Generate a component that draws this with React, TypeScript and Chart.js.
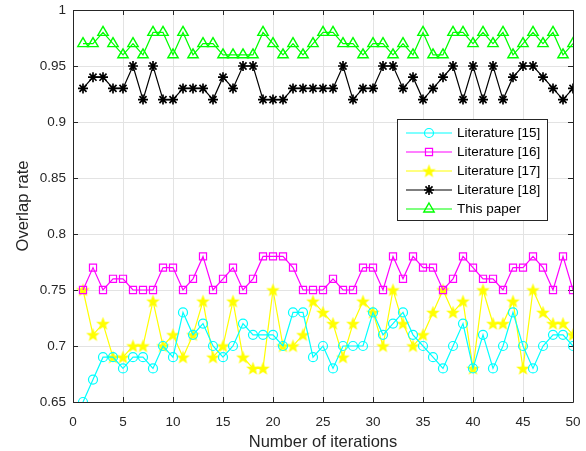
import React, { useEffect, useRef } from "react";
import { Chart, registerables } from "chart.js";

Chart.register(...registerables);

const iterations = [
  1, 2, 3, 4, 5, 6, 7, 8, 9, 10, 11, 12, 13, 14, 15, 16, 17, 18, 19, 20, 21, 22, 23, 24, 25,
  26, 27, 28, 29, 30, 31, 32, 33, 34, 35, 36, 37, 38, 39, 40, 41, 42, 43, 44, 45, 46, 47, 48, 49, 50,
];

const lit15 = [
  0.65, 0.67, 0.69, 0.69, 0.68, 0.69, 0.69, 0.68, 0.7, 0.69,
  0.73, 0.71, 0.72, 0.7, 0.69, 0.7, 0.72, 0.71, 0.71, 0.71,
  0.7, 0.73, 0.73, 0.69, 0.7, 0.68, 0.7, 0.7, 0.7, 0.73,
  0.71, 0.72, 0.73, 0.71, 0.7, 0.69, 0.68, 0.7, 0.72, 0.68,
  0.71, 0.68, 0.7, 0.73, 0.7, 0.68, 0.7, 0.71, 0.71, 0.7,
];

const lit16 = [
  0.75, 0.77, 0.75, 0.76, 0.76, 0.75, 0.75, 0.75, 0.77, 0.77,
  0.75, 0.76, 0.78, 0.75, 0.76, 0.77, 0.75, 0.76, 0.78, 0.78,
  0.78, 0.77, 0.75, 0.75, 0.75, 0.76, 0.75, 0.75, 0.77, 0.77,
  0.75, 0.78, 0.76, 0.78, 0.77, 0.77, 0.75, 0.76, 0.78, 0.77,
  0.76, 0.76, 0.75, 0.77, 0.77, 0.78, 0.77, 0.75, 0.78, 0.75,
];

const lit17 = [
  0.75, 0.71, 0.72, 0.69, 0.69, 0.7, 0.7, 0.74, 0.7, 0.71,
  0.69, 0.71, 0.74, 0.69, 0.7, 0.74, 0.69, 0.68, 0.68, 0.75,
  0.7, 0.7, 0.71, 0.74, 0.73, 0.72, 0.69, 0.72, 0.74, 0.73,
  0.7, 0.75, 0.72, 0.7, 0.71, 0.73, 0.75, 0.73, 0.74, 0.68,
  0.75, 0.72, 0.72, 0.74, 0.68, 0.75, 0.73, 0.72, 0.72, 0.71,
];

const lit18 = [
  0.93, 0.94, 0.94, 0.93, 0.93, 0.95, 0.92, 0.95, 0.92, 0.92,
  0.93, 0.93, 0.93, 0.92, 0.94, 0.93, 0.95, 0.95, 0.92, 0.92,
  0.92, 0.93, 0.93, 0.93, 0.93, 0.93, 0.95, 0.92, 0.93, 0.93,
  0.95, 0.95, 0.93, 0.94, 0.92, 0.93, 0.94, 0.95, 0.92, 0.95,
  0.92, 0.95, 0.92, 0.94, 0.95, 0.95, 0.94, 0.93, 0.92, 0.93,
];

const thisPaper = [
  0.97, 0.97, 0.98, 0.97, 0.96, 0.97, 0.96, 0.98, 0.98, 0.96,
  0.98, 0.96, 0.97, 0.97, 0.96, 0.96, 0.96, 0.96, 0.98, 0.97,
  0.96, 0.97, 0.96, 0.97, 0.98, 0.98, 0.97, 0.97, 0.96, 0.97,
  0.97, 0.96, 0.97, 0.96, 0.98, 0.96, 0.96, 0.98, 0.98, 0.97,
  0.98, 0.97, 0.98, 0.96, 0.97, 0.98, 0.97, 0.98, 0.96, 0.97,
];

const seriesNames = ["Literature [15]", "Literature [16]", "Literature [17]", "Literature [18]", "This paper"];
const seriesColors = ["#00FFFF", "#FF00FF", "#FFFF00", "#000000", "#00FF00"];

const xTickValues = [0, 5, 10, 15, 20, 25, 30, 35, 40, 45, 50];
const yTickValues = [0.65, 0.7, 0.75, 0.8, 0.85, 0.9, 0.95, 1];
const xTitle = "Number of iterations";
const yTitle = "Overlap rate";

const FONT = "'Liberation Sans', Arial, Helvetica, sans-serif";
const AXIS_COLOR = "#262626";
const GRID_COLOR = "#e3e3e3";

function makePentagram(color: string, outer: number): HTMLCanvasElement {
  const size = Math.ceil(outer * 2 + 4);
  const c = document.createElement("canvas");
  c.width = size;
  c.height = size;
  const ctx = c.getContext("2d")!;
  const cx = size / 2;
  const cy = size / 2 + 0.5;
  const inner = outer * 0.42;
  ctx.beginPath();
  for (let k = 0; k < 10; k++) {
    const r = k % 2 === 0 ? outer : inner;
    const a = -Math.PI / 2 + (k * Math.PI) / 5;
    const px = cx + r * Math.cos(a);
    const py = cy + r * Math.sin(a);
    if (k === 0) ctx.moveTo(px, py);
    else ctx.lineTo(px, py);
  }
  ctx.closePath();
  ctx.fillStyle = color;
  ctx.fill();
  ctx.strokeStyle = color;
  ctx.lineWidth = 1.2;
  ctx.lineJoin = "miter";
  ctx.stroke();
  return c;
}

function drawMarker(ctx: CanvasRenderingContext2D, style: any, x: number, y: number, r: number, color: string, lw: number) {
  ctx.save();
  ctx.strokeStyle = color;
  ctx.lineWidth = lw;
  ctx.beginPath();
  if (style instanceof HTMLCanvasElement) {
    ctx.drawImage(style, x - style.width / 2, y - style.height / 2);
  } else if (style === "circle") {
    ctx.arc(x, y, r, 0, Math.PI * 2);
    ctx.stroke();
  } else if (style === "rect") {
    const s = Math.SQRT1_2 * r;
    ctx.rect(x - s, y - s, 2 * s, 2 * s);
    ctx.stroke();
  } else if (style === "triangle") {
    for (let k = 0; k < 3; k++) {
      const a = -Math.PI / 2 + (k * 2 * Math.PI) / 3;
      const px = x + r * Math.cos(a);
      const py = y + r * Math.sin(a);
      if (k === 0) ctx.moveTo(px, py);
      else ctx.lineTo(px, py);
    }
    ctx.closePath();
    ctx.stroke();
  } else if (style === "star") {
    ctx.moveTo(x, y - r);
    ctx.lineTo(x, y + r);
    ctx.moveTo(x - r, y);
    ctx.lineTo(x + r, y);
    const d = Math.cos(Math.PI / 4) * r;
    ctx.moveTo(x - d, y - d);
    ctx.lineTo(x + d, y + d);
    ctx.moveTo(x + d, y - d);
    ctx.lineTo(x - d, y + d);
    ctx.stroke();
  }
  ctx.restore();
}

const framePlugin = {
  id: "frame",
  beforeDatasetsDraw(chart: any) {
    const { ctx, chartArea } = chart;
    const { left, right, top, bottom } = chartArea;
    const xs = chart.scales.x;
    const ys = chart.scales.y;
    const tl = 5;
    ctx.save();
    ctx.strokeStyle = AXIS_COLOR;
    ctx.lineWidth = 1;
    ctx.beginPath();
    ctx.rect(Math.round(left) + 0.5, Math.round(top) + 0.5, Math.round(right - left), Math.round(bottom - top));
    ctx.stroke();
    ctx.beginPath();
    for (const v of xTickValues) {
      const px = Math.round(xs.getPixelForValue(v)) + 0.5;
      ctx.moveTo(px, bottom);
      ctx.lineTo(px, bottom - tl);
      ctx.moveTo(px, top);
      ctx.lineTo(px, top + tl);
    }
    for (const v of yTickValues) {
      const py = Math.round(ys.getPixelForValue(v)) + 0.5;
      ctx.moveTo(left, py);
      ctx.lineTo(left + tl, py);
      ctx.moveTo(right, py);
      ctx.lineTo(right - tl, py);
    }
    ctx.stroke();
    ctx.restore();
  },
};

const titlePlugin = {
  id: "titles",
  afterDraw(chart: any) {
    const { ctx, chartArea } = chart;
    ctx.save();
    ctx.fillStyle = AXIS_COLOR;
    ctx.font = `16.5px ${FONT}`;
    ctx.textAlign = "center";
    ctx.textBaseline = "alphabetic";
    ctx.fillText(xTitle, (chartArea.left + chartArea.right) / 2, 446.5);
    ctx.translate(28, (chartArea.top + chartArea.bottom) / 2);
    ctx.rotate(-Math.PI / 2);
    ctx.fillText(yTitle, 0, 0);
    ctx.restore();
  },
};

const legendPlugin = {
  id: "customLegend",
  afterDraw(chart: any) {
    const { ctx } = chart;
    const bx = 397.5;
    const by = 119.5;
    const bw = 150;
    const bh = 101;
    ctx.save();
    ctx.fillStyle = "#ffffff";
    ctx.fillRect(bx, by, bw, bh);
    ctx.strokeStyle = AXIS_COLOR;
    ctx.lineWidth = 1;
    ctx.strokeRect(bx, by, bw, bh);
    ctx.font = `13.5px ${FONT}`;
    ctx.textBaseline = "middle";
    ctx.textAlign = "left";
    chart.data.datasets.forEach((ds: any, i: number) => {
      const y = 133 + i * 19;
      ctx.strokeStyle = ds.borderColor;
      ctx.lineWidth = 1.2;
      ctx.beginPath();
      ctx.moveTo(406, y);
      ctx.lineTo(452, y);
      ctx.stroke();
      drawMarker(ctx, ds.pointStyle, 429, y, ds.pointRadius, ds.borderColor, ds.pointBorderWidth);
      ctx.fillStyle = "#000000";
      ctx.fillText(ds.label, 457, y + 0.5);
    });
    ctx.restore();
  },
};

export default function App() {
  const ref = useRef<HTMLCanvasElement>(null);

  useEffect(() => {
    const canvas = ref.current!;
    const pentagram = makePentagram(seriesColors[2], 5.5);
    const seriesValues = [lit15, lit16, lit17, lit18, thisPaper];
    const pointStyles: any[] = ["circle", "rect", pentagram, "star", "triangle"];
    const radii = [4.5, 5, 6, 5, 6];
    const markerWidths = [1.2, 1.2, 1.2, 1.7, 1.4];

    const datasets = seriesValues.map((vals, i) => ({
      label: seriesNames[i],
      data: iterations.map((x, k) => ({ x, y: vals[k] })),
      borderColor: seriesColors[i],
      backgroundColor: "rgba(0,0,0,0)",
      borderWidth: 1.2,
      pointStyle: pointStyles[i],
      pointRadius: radii[i],
      pointBorderWidth: markerWidths[i],
      pointBorderColor: seriesColors[i],
      pointBackgroundColor: "rgba(0,0,0,0)",
      fill: false,
      tension: 0,
    }));

    const chart = new Chart(canvas, {
      type: "line",
      data: { datasets },
      options: {
        responsive: false,
        animation: false,
        devicePixelRatio: 1,
        layout: { padding: { left: 0, right: 13, top: 10, bottom: 0 } },
        plugins: { legend: { display: false }, tooltip: { enabled: false } },
        scales: {
          x: {
            type: "linear",
            min: 0,
            max: 50,
            afterBuildTicks: (s: any) => {
              s.ticks = xTickValues.map((v) => ({ value: v }));
            },
            afterFit: (s: any) => {
              s.height = 49;
              s.paddingLeft = 0;
              s.paddingRight = 0;
            },
            grid: { color: GRID_COLOR, drawTicks: false, lineWidth: 1 },
            border: { display: false },
            ticks: {
              color: AXIS_COLOR,
              font: { size: 13.5, family: FONT },
              padding: 12,
              maxRotation: 0,
              autoSkip: false,
              callback: (v: any) => String(v),
            },
          },
          y: {
            type: "linear",
            min: 0.65,
            max: 1,
            afterBuildTicks: (s: any) => {
              s.ticks = yTickValues.map((v) => ({ value: v }));
            },
            afterFit: (s: any) => {
              s.width = 73;
              s.paddingTop = 0;
              s.paddingBottom = 0;
            },
            grid: { color: GRID_COLOR, drawTicks: false, lineWidth: 1 },
            border: { display: false },
            ticks: {
              color: AXIS_COLOR,
              font: { size: 13.5, family: FONT },
              padding: 7,
              autoSkip: false,
              callback: (v: any) => String(Math.round(Number(v) * 100) / 100),
            },
          },
        },
      },
      plugins: [framePlugin, titlePlugin, legendPlugin],
    });

    return () => chart.destroy();
  }, []);

  return (
    <div style={{ position: "absolute", left: 0, top: 0, width: 586, height: 451, background: "#fff" }}>
      <canvas ref={ref} width={586} height={451} style={{ display: "block" }} />
    </div>
  );
}
